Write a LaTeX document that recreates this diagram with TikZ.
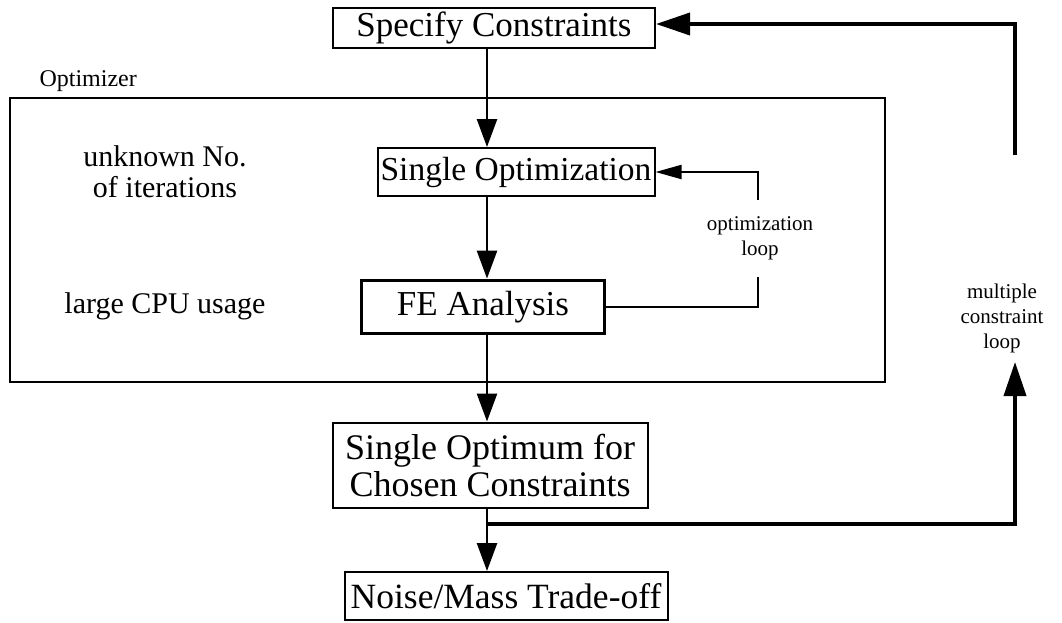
\documentclass[tikz,border=0pt]{standalone}
\usepackage{fontspec}
\setmainfont{Liberation Serif}
\usetikzlibrary{arrows.meta}
\tikzset{
	stepbox/.style={draw,line width=2pt,inner sep=0pt,font=\fontsize{35}{38}\selectfont,align=center},
	side/.style={font=\fontsize{30}{31}\selectfont,align=center},
	small/.style={font=\fontsize{21}{25}\selectfont,align=center},
	flow/.style={line width=2.6pt,-{Triangle[length=28pt,width=20pt]}},
	backflow/.style={line width=3.8pt,-{Triangle[length=34pt,width=22pt]}},
	optflow/.style={line width=2pt,-{Triangle[length=26pt,width=14pt]}},
}
\begin{document}
\begin{tikzpicture}[x=1pt,y=-1pt]
	\useasboundingbox (0,0) rectangle (1062,622);
	% optimizer frame and its notes
	\draw[line width=2pt] (10,98) rectangle (885,382);
	\node[small,font=\fontsize{24}{26}\selectfont,anchor=south west] (optlabel) at (36,95) {Optimizer};
	\node[side] (iter) at (165,172) {unknown No.\\of iterations};
	\node[side] (cpu) at (165,306) {large CPU usage};
	% steps
	\node[stepbox,minimum width=322,minimum height=40] (spec) at (494,28) {Specify Constraints};
	\node[stepbox,minimum width=277,minimum height=48,font=\fontsize{33.5}{36}\selectfont] (single) at (516,172) {Single Optimization};
	\node[stepbox,line width=3.8pt,minimum width=243,minimum height=53] (fe) at (483,307) {FE Analysis};
	\node[stepbox,minimum width=315,minimum height=85,font=\fontsize{36}{37}\selectfont] (optimum) at (490,465) {Single Optimum for\\Chosen Constraints};
	\node[stepbox,minimum width=323,minimum height=48,font=\fontsize{35.5}{38}\selectfont] (tradeoff) at (506,596) {Noise/Mass Trade-off};
	% main flow
	\coordinate (axis) at (487,0);
	\draw[flow] (spec.south -| axis) -- (single.north -| axis);
	\draw[flow] (single.south -| axis) -- (fe.north -| axis);
	\draw[flow] (fe.south -| axis) -- (optimum.north -| axis);
	\draw[flow] (optimum.south -| axis) -- (tradeoff.north -| axis);
	% optimization loop
	\node[small] (optloop) at (760,238) {optimization\\loop};
	\coordinate (oplow) at (758,277);
	\coordinate (ophigh) at (758,200);
	\draw[line width=2pt] (fe.east) -| (oplow);
	\draw[optflow] (ophigh) |- (single.east);
	% multiple constraint loop
	\node[small] (multloop) at (1002,318) {multiple\\constraint\\loop};
	\coordinate (split) at (487,524);
	\coordinate (mtip) at (1015,362);
	\coordinate (mtop) at (1015,155);
	\draw[backflow] (split) -| (mtip);
	\draw[backflow] (mtop) |- ([yshift=4pt]spec.east);
\end{tikzpicture}
\end{document}
